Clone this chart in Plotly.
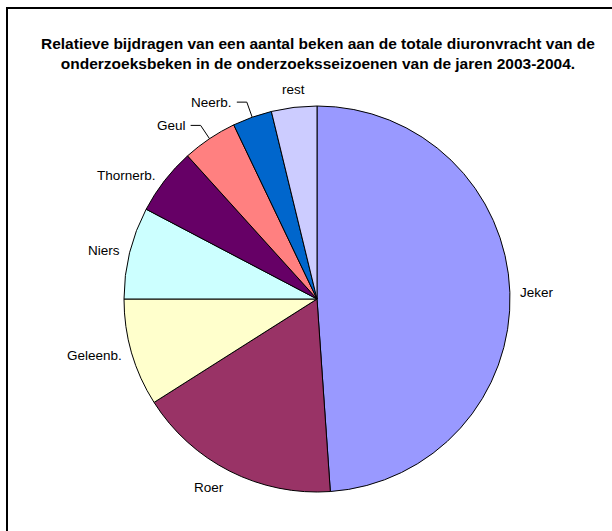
import math
import plotly.graph_objects as go

# Share of the total diuron load per stream (%), clockwise from 12 o'clock
streams = ["Jeker", "Roer", "Geleenb.", "Niers", "Thornerb.", "Geul", "Neerb.", "rest"]
shares = [48.9, 17.1, 9.0, 7.7, 5.6, 4.6, 3.3, 3.8]
colors = ["#9999FF", "#993366", "#FFFFCC", "#CCFFFF", "#660066", "#FF8080", "#0066CC", "#CCCCFF"]
with_leader = {"Geul", "Neerb."}

W, H = 612, 531
CX, CY, R = 317, 299, 193  # pie centre and radius in pixels

def px(x):
    return x / W

def py(y):
    return 1 - y / H

fig = go.Figure(go.Pie(
    labels=streams,
    values=shares,
    sort=False,
    direction="clockwise",
    rotation=0,
    marker=dict(colors=colors, line=dict(color="black", width=1)),
    textinfo="none",
    hoverinfo="label+percent",
    domain=dict(x=[px(CX - R), px(CX + R)], y=[py(CY + R), py(CY - R)]),
    showlegend=False,
))

annotations = []
shapes = []
total = sum(shares)
acc = 0.0
label_font = dict(family="Liberation Sans, Arial", size=13.5, color="black")
for name, v in zip(streams, shares):
    mid = (acc + v / 2) / total * 2 * math.pi
    acc += v
    s, c = math.sin(mid), math.cos(mid)
    if name in with_leader:
        ex, ey = CX + R * s, CY - R * c
        bx, by = CX + (R + 16) * s, CY - (R + 16) * c
        hx = bx - 10
        shapes.append(dict(type="path", xref="paper", yref="paper",
                           path=f"M {px(ex)} {py(ey)} L {px(bx)} {py(by)} L {px(hx)} {py(by)}",
                           line=dict(color="black", width=1)))
        annotations.append(dict(x=px(hx - 3), y=py(by), xref="paper", yref="paper",
                                text=name, showarrow=False, xanchor="right", yanchor="middle",
                                font=label_font))
        continue
    lx, ly = CX + (R + 8) * s, CY - (R + 8) * c
    xa = "left" if s > 0.3 else ("right" if s < -0.3 else "center")
    ya = "middle" if abs(c) < 0.7 else ("top" if c < 0 else "bottom")
    annotations.append(dict(x=px(lx), y=py(ly), xref="paper", yref="paper",
                            text=name, showarrow=False, xanchor=xa, yanchor=ya,
                            font=label_font))

annotations.append(dict(
    x=px(318), y=py(54), xref="paper", yref="paper", showarrow=False,
    xanchor="center", yanchor="middle",
    text="<b>Relatieve bijdragen van een aantal beken aan de totale diuronvracht van de<br>"
         "onderzoeksbeken in de onderzoeksseizoenen van de jaren 2003-2004.</b>",
    font=dict(family="Liberation Sans, Arial", size=15.5, color="black"),
))

# chart-area frame
shapes.append(dict(type="rect", xref="paper", yref="paper",
                   x0=px(7), x1=1.05, y0=-0.05, y1=py(8),
                   line=dict(color="black", width=2)))

fig.update_layout(
    width=W, height=H,
    margin=dict(l=0, r=0, t=0, b=0),
    paper_bgcolor="white", plot_bgcolor="white",
    annotations=annotations, shapes=shapes,
)
fig.write_html("out.html")
